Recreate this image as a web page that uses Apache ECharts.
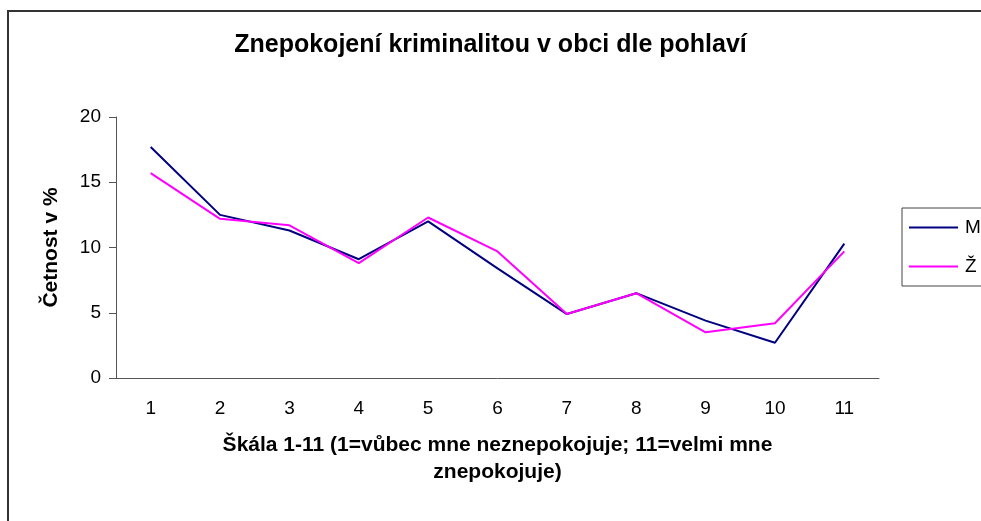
<!DOCTYPE html>
<html>
<head>
<meta charset="utf-8">
<script src="https://cdn.jsdelivr.net/npm/echarts@6/dist/echarts.min.js"></script>
<style>
  html, body { margin: 0; padding: 0; background: #fff; }
  #chart { width: 981px; height: 521px; }
</style>
</head>
<body>
<div id="chart"></div>
<script>
// scale categories 1..11
const categories = ['1', '2', '3', '4', '5', '6', '7', '8', '9', '10', '11'];
// share in % per scale value
const muzi = [17.7, 12.5, 11.3, 9.1, 12.0, 8.4, 4.9, 6.5, 4.4, 2.7, 10.3];
const zeny = [15.7, 12.2, 11.7, 8.8, 12.3, 9.7, 4.9, 6.5, 3.5, 4.2, 9.7];

const font = 'Liberation Sans, Arial, sans-serif';

const chart = echarts.init(document.getElementById('chart'));

const option = {
  animation: false,
  backgroundColor: '#fff',
  title: {
    text: 'Znepokojení kriminalitou v obci dle pohlaví',
    left: 'center',
    top: 28,
    textStyle: { fontFamily: font, fontSize: 25, fontWeight: 'bold', color: '#000' }
  },
  graphic: [
    {
      type: 'rect',
      shape: { x: 8, y: 11, width: 1000, height: 540 },
      style: { fill: 'none', stroke: '#333', lineWidth: 2 }
    }
  ],
  legend: {
    orient: 'vertical',
    left: 902,
    top: 208,
    itemWidth: 49,
    itemHeight: 2,
    itemGap: 20,
    padding: [10, 8, 10, 7],
    borderColor: '#444',
    borderWidth: 1,
    icon: 'rect',
    textStyle: { fontFamily: font, fontSize: 19, color: '#000', padding: [0, 0, 0, 2] },
    data: ['M', 'Ž']
  },
  grid: { left: 116, right: 102, top: 117, bottom: 143 },
  xAxis: {
    type: 'category',
    data: categories,
    boundaryGap: true,
    name: 'Škála 1-11 (1=vůbec mne neznepokojuje; 11=velmi mne\nznepokojuje)',
    nameLocation: 'middle',
    nameGap: 54,
    nameTextStyle: { fontFamily: font, fontSize: 21, fontWeight: 'bold', color: '#000', lineHeight: 27 },
    axisLine: { lineStyle: { color: '#555', width: 1 } },
    axisTick: { alignWithLabel: false, length: 6, inside: false, lineStyle: { color: '#555' } },
    axisLabel: { fontFamily: font, fontSize: 19, color: '#000', margin: 21 },
    splitLine: { show: false }
  },
  yAxis: {
    type: 'value',
    min: 0,
    max: 20,
    interval: 5,
    name: 'Četnost v %',
    nameLocation: 'middle',
    nameGap: 54,
    nameTextStyle: { fontFamily: font, fontSize: 21, fontWeight: 'bold', color: '#000' },
    axisLine: { show: true, lineStyle: { color: '#555', width: 1 } },
    axisTick: { show: true, length: 7, lineStyle: { color: '#555' } },
    axisLabel: { fontFamily: font, fontSize: 19, color: '#000', margin: 15 },
    splitLine: { show: false }
  },
  series: [
    {
      name: 'M',
      type: 'line',
      data: muzi,
      symbol: 'none',
      lineStyle: { color: '#000080', width: 2 },
      itemStyle: { color: '#000080' }
    },
    {
      name: 'Ž',
      type: 'line',
      data: zeny,
      symbol: 'none',
      lineStyle: { color: '#FF00FF', width: 2 },
      itemStyle: { color: '#FF00FF' }
    }
  ]
};

chart.setOption(option);
</script>
</body>
</html>
